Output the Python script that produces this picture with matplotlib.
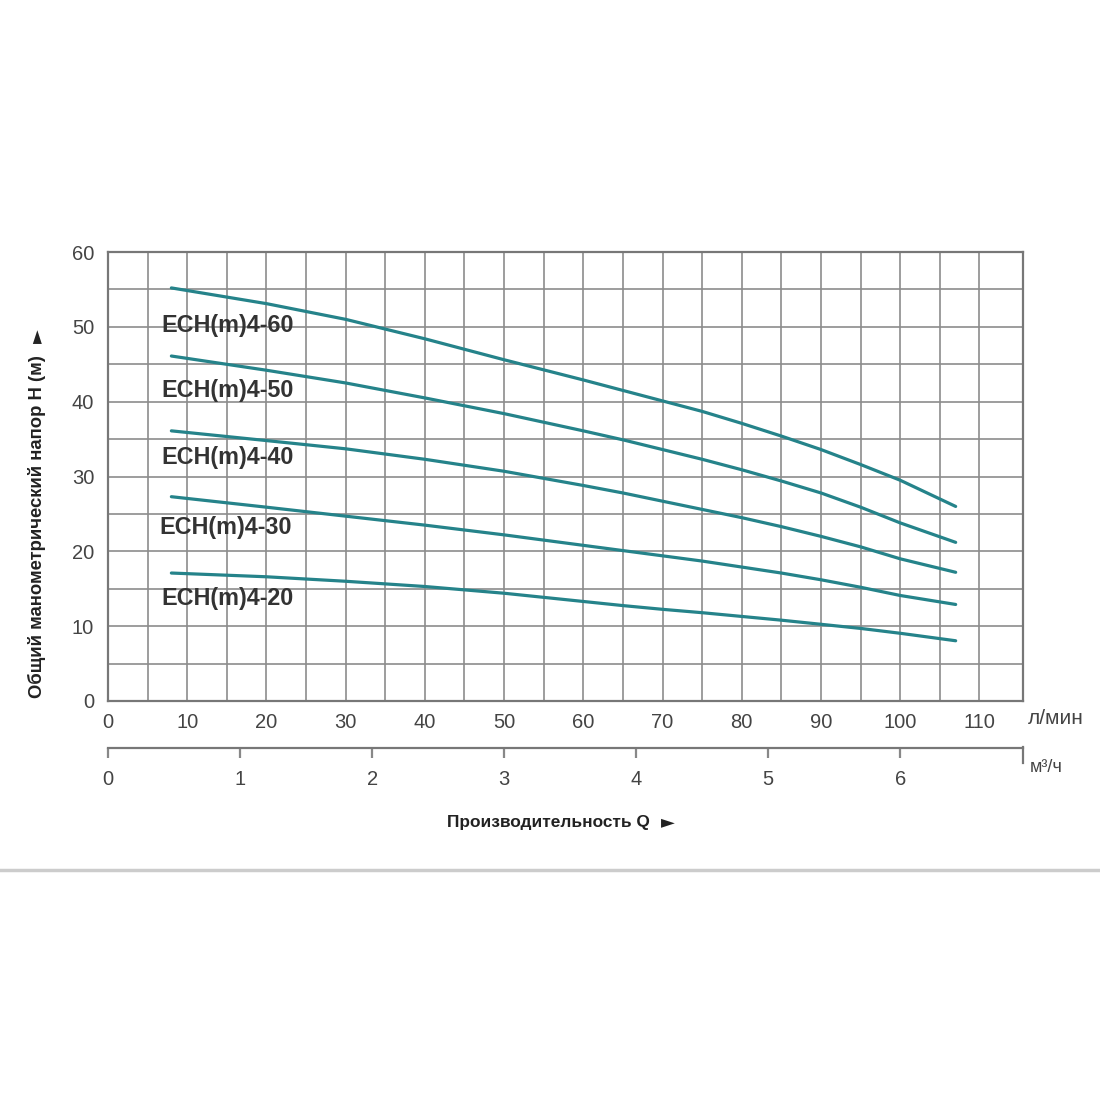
import matplotlib
matplotlib.use("Agg")
import matplotlib.pyplot as plt
import numpy as np

plt.rcParams['font.family'] = ['Liberation Sans', 'DejaVu Sans']

# расход, л/мин
flow = [8, 20, 30, 40, 50, 60, 65, 70, 75, 80, 85, 90, 95, 100, 107]
# напор, м
h60 = [55.2, 53.1, 51.0, 48.4, 45.6, 42.9, 41.5, 40.1, 38.7, 37.1, 35.4, 33.6, 31.6, 29.5, 26.0]
h50 = [46.1, 44.2, 42.5, 40.5, 38.4, 36.1, 34.9, 33.6, 32.3, 30.9, 29.4, 27.8, 25.9, 23.8, 21.2]
h40 = [36.1, 34.8, 33.7, 32.3, 30.7, 28.8, 27.8, 26.7, 25.6, 24.5, 23.3, 22.0, 20.6, 19.0, 17.2]
h30 = [27.3, 25.9, 24.7, 23.5, 22.2, 20.8, 20.1, 19.4, 18.7, 17.9, 17.1, 16.2, 15.2, 14.1, 12.9]
h20 = [17.1, 16.6, 16.0, 15.3, 14.4, 13.3, 12.75, 12.25, 11.8, 11.3, 10.8, 10.25, 9.7, 9.05, 8.05]

models = ['ECH(m)4-60', 'ECH(m)4-50', 'ECH(m)4-40', 'ECH(m)4-30', 'ECH(m)4-20']
curves = [h60, h50, h40, h30, h20]
label_pos = [(6.7, 50.2), (6.7, 41.5), (6.7, 32.5), (6.45, 23.2), (6.7, 13.7)]

xticks_lmin = [0, 10, 20, 30, 40, 50, 60, 70, 80, 90, 100, 110]
xticks_m3h = [0, 1, 2, 3, 4, 5, 6]
yticks = [0, 10, 20, 30, 40, 50, 60]

W = 1100.0
fig = plt.figure(figsize=(11, 11), dpi=100)
fig.patch.set_facecolor('white')

ax = fig.add_axes([108 / W, 1 - 701 / W, (1023 - 108) / W, (701 - 252) / W])
ax.set_xlim(0, 115.5)
ax.set_ylim(0, 60)
ax.set_xticks(xticks_lmin, labels=[str(v) for v in xticks_lmin])
ax.set_xticks(np.arange(5, 115, 10), minor=True)
ax.set_yticks(yticks, labels=[str(v) for v in yticks])
ax.set_yticks(np.arange(5, 60, 10), minor=True)
ax.grid(True, which='both', color='#8c8c8c', linewidth=1.2)
ax.set_axisbelow(True)
ax.tick_params(axis='both', which='both', length=0, labelsize=14.5, labelcolor='#444444')
ax.tick_params(axis='x', pad=9)
ax.tick_params(axis='y', pad=10)
for s in ax.spines.values():
    s.set_color('#777777')
    s.set_linewidth(1.6)

for name, h, (lx, ly) in zip(models, curves, label_pos):
    ax.plot(flow, h, color='#25838a', linewidth=2.3, solid_capstyle='round',
            solid_joinstyle='round')
    ax.text(lx, ly, name, ha='left', va='center', fontsize=16.8, fontweight='bold', color='#333333')

# вторая шкала, м³/ч
ax2 = fig.add_axes([108 / W, 1 - 748 / W, (1023 - 108) / W, 0.0005])
ax2.set_xlim(0, 115.5 * 0.06)
ax2.set_ylim(0, 1)
ax2.set_yticks([])
ax2.set_xticks(xticks_m3h, labels=[str(v) for v in xticks_m3h])
for k in ['left', 'right', 'top']:
    ax2.spines[k].set_visible(False)
ax2.spines['bottom'].set_color('#777777')
ax2.spines['bottom'].set_linewidth(1.6)
ax2.tick_params(axis='x', length=7, width=1.6, color='#888888', pad=9,
                labelsize=14.5, labelcolor='#444444')
fig.add_artist(plt.Line2D([1023 / W, 1023 / W], [1 - 747 / W, 1 - 763 / W],
                          color='#777777', linewidth=1.6))

fig.text(1028 / W, 1 - 718 / W, 'л/мин', ha='left', va='center', fontsize=15, color='#444444')
fig.text(1030 / W, 1 - 767 / W, 'м³/ч', ha='left', va='center', fontsize=13, color='#444444')

fig.text(447 / W, 1 - 822 / W, 'Производительность Q', ha='left', va='center',
         fontsize=12.4, fontweight='bold', color='#222222')
fig.text(668 / W, 1 - 822 / W, '►', ha='center', va='center',
         fontsize=13, color='#222222', family=['DejaVu Sans'])
fig.text(37 / W, 1 - 527 / W, 'Общий манометрический напор H (м)', ha='center', va='center',
         rotation=90, fontsize=13.3, fontweight='bold', color='#222222')
fig.text(37 / W, 1 - 336 / W, '►', ha='center', va='center', rotation=90,
         fontsize=13, color='#222222', family=['DejaVu Sans'])

fig.add_artist(plt.Line2D([0, 1], [1 - 870 / W, 1 - 870 / W], color='#cccccc', linewidth=2.5))

fig.savefig('out.png', dpi=100, facecolor='white')
